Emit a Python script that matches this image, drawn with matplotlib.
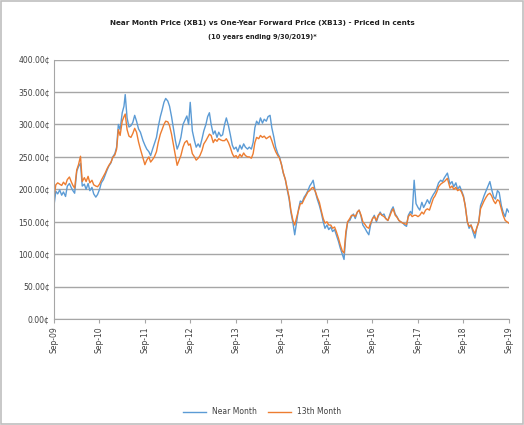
import matplotlib
matplotlib.use("Agg")
import matplotlib.pyplot as plt
import matplotlib.ticker as mticker
from matplotlib import font_manager
import pandas as pd

# Dates (roughly twice a month, extra points at peaks/troughs)
dates = [
    "2009-09-30", "2009-10-15", "2009-10-30", "2009-11-15", "2009-12-01", "2009-12-15",
    "2010-01-01", "2010-01-15", "2010-02-01", "2010-02-15", "2010-03-01", "2010-03-15",
    "2010-04-01", "2010-04-15", "2010-05-01", "2010-05-15", "2010-06-01", "2010-06-15",
    "2010-07-01", "2010-07-15", "2010-08-01", "2010-08-15", "2010-09-01", "2010-09-15",
    "2010-10-01", "2010-10-15", "2010-11-01", "2010-11-15", "2010-12-01", "2010-12-15",
    "2011-01-01", "2011-01-15", "2011-02-01", "2011-02-15", "2011-03-01", "2011-03-15",
    "2011-04-01", "2011-04-15", "2011-04-25", "2011-05-10", "2011-05-25", "2011-06-10",
    "2011-06-25", "2011-07-10", "2011-07-25", "2011-08-10", "2011-08-25", "2011-09-15",
    "2011-09-30", "2011-10-15", "2011-11-01", "2011-11-15", "2011-12-01", "2011-12-15",
    "2012-01-01", "2012-01-15", "2012-02-01", "2012-02-15", "2012-03-01", "2012-03-15",
    "2012-04-01", "2012-04-15", "2012-05-01", "2012-05-15", "2012-06-01", "2012-06-15",
    "2012-07-01", "2012-07-15", "2012-08-01", "2012-08-15", "2012-09-01", "2012-09-15",
    "2012-09-28", "2012-10-15", "2012-11-01", "2012-11-15", "2012-12-01", "2012-12-15",
    "2013-01-01", "2013-01-15", "2013-02-01", "2013-02-15", "2013-03-01", "2013-03-15",
    "2013-04-01", "2013-04-15", "2013-05-01", "2013-05-15", "2013-06-01", "2013-06-15",
    "2013-07-01", "2013-07-15", "2013-08-01", "2013-08-15", "2013-09-01", "2013-09-15",
    "2013-10-01", "2013-10-15", "2013-11-01", "2013-11-15", "2013-12-01", "2013-12-15",
    "2014-01-01", "2014-01-15", "2014-02-01", "2014-02-15", "2014-03-01", "2014-03-15",
    "2014-04-01", "2014-04-15", "2014-05-01", "2014-05-15", "2014-06-01", "2014-06-15",
    "2014-07-01", "2014-07-15", "2014-08-01", "2014-08-15", "2014-09-01", "2014-09-15",
    "2014-10-01", "2014-10-15", "2014-11-01", "2014-11-15", "2014-12-01", "2014-12-15",
    "2015-01-01", "2015-01-15", "2015-02-01", "2015-02-15", "2015-03-01", "2015-03-15",
    "2015-04-01", "2015-04-15", "2015-05-01", "2015-05-15", "2015-06-01", "2015-06-12",
    "2015-07-01", "2015-07-15", "2015-08-01", "2015-08-15", "2015-09-01", "2015-09-15",
    "2015-10-01", "2015-10-15", "2015-11-01", "2015-11-15", "2015-12-01", "2015-12-15",
    "2016-01-01", "2016-01-15", "2016-02-01", "2016-02-15", "2016-03-01", "2016-03-15",
    "2016-04-01", "2016-04-15", "2016-05-01", "2016-05-15", "2016-06-01", "2016-06-15",
    "2016-07-01", "2016-07-15", "2016-08-01", "2016-08-15", "2016-09-01", "2016-09-15",
    "2016-10-01", "2016-10-15", "2016-11-01", "2016-11-15", "2016-12-01", "2016-12-15",
    "2017-01-01", "2017-01-15", "2017-02-01", "2017-02-15", "2017-03-01", "2017-03-15",
    "2017-04-01", "2017-04-15", "2017-05-01", "2017-05-15", "2017-06-01", "2017-06-15",
    "2017-07-01", "2017-07-15", "2017-08-01", "2017-08-15", "2017-08-31", "2017-09-15",
    "2017-10-01", "2017-10-15", "2017-11-01", "2017-11-15", "2017-12-01", "2017-12-15",
    "2018-01-01", "2018-01-15", "2018-02-01", "2018-02-15", "2018-03-01", "2018-03-15",
    "2018-04-01", "2018-04-15", "2018-05-01", "2018-05-25", "2018-06-15", "2018-07-01",
    "2018-07-15", "2018-08-01", "2018-08-15", "2018-09-01", "2018-09-15", "2018-10-01",
    "2018-10-15", "2018-11-01", "2018-11-15", "2018-12-01", "2018-12-15", "2019-01-01",
    "2019-01-15", "2019-02-01", "2019-02-15", "2019-03-01", "2019-03-15", "2019-04-01",
    "2019-04-15", "2019-05-01", "2019-05-15", "2019-06-01", "2019-06-15", "2019-07-01",
    "2019-07-15", "2019-08-01", "2019-08-15", "2019-09-01", "2019-09-15", "2019-09-30",
]

# Near month (XB1), cents
near_month = [
    175, 197, 193, 199, 191, 196,
    189, 205, 209, 203, 198, 194,
    228, 235, 240, 205, 208, 200,
    209, 198, 203, 193, 188, 192,
    200, 210, 215, 222, 230, 236,
    241, 250, 255, 265, 300, 292,
    318, 328, 346, 310, 296, 298,
    303, 314, 305, 293, 288, 275,
    268, 262, 258, 252, 262, 270,
    280, 296, 312, 322, 334, 340,
    336, 328, 312, 295, 275, 262,
    270, 280, 300, 306, 313, 300,
    334, 290, 275, 265, 270, 265,
    278, 290, 300, 312, 318, 300,
    285, 290, 280, 288, 282, 284,
    300, 310, 298, 285, 268, 262,
    265, 258, 268, 262, 270, 265,
    262, 265, 262, 272, 295, 305,
    300, 310, 302, 308, 305, 312,
    314, 295, 280, 265, 255, 250,
    238, 225, 215, 200, 185, 165,
    148, 130, 152, 170, 182, 180,
    188, 192, 198, 205, 210, 214,
    195, 185, 175, 165, 150, 140,
    145, 138, 142, 135, 138, 130,
    120, 110, 100, 92, 130, 150,
    152, 158, 162, 155, 165, 168,
    158, 145, 140, 135, 130, 145,
    155, 160, 150, 158, 165, 160,
    162, 155, 152, 160, 168, 173,
    162, 158, 152, 150, 148, 145,
    143, 160, 166, 162, 214, 178,
    172, 168, 180, 172, 178, 184,
    178, 186, 192, 196, 202, 210,
    214, 212, 218, 225, 208, 212,
    204, 210, 200, 205, 198, 190,
    175, 150, 140, 145, 135, 125,
    140, 150, 175, 182, 190, 198,
    205, 212, 200, 188, 185, 198,
    195, 175, 165, 158, 170, 165,
]

# 13th month (XB13), cents
month_13 = [
    188, 207, 210, 208, 206, 211,
    207, 215, 219, 212, 206, 202,
    230, 238, 251, 212, 218, 212,
    220, 210, 214, 207, 205, 204,
    208, 214, 220, 225, 232, 237,
    242, 249, 253, 262, 292, 283,
    305, 312, 316, 292, 282, 280,
    286, 294, 288, 273, 262, 248,
    238, 245, 250, 242, 246, 250,
    258, 272, 285, 292, 300, 305,
    304, 298, 285, 270, 252, 237,
    245, 252, 265, 272, 275, 268,
    270, 255, 250, 245, 248, 252,
    260, 270, 275, 280, 285, 283,
    272, 277, 274, 278, 276, 275,
    275, 278, 272, 265, 255, 250,
    252, 248, 254, 250, 256, 252,
    250, 250, 248, 255, 272, 280,
    278, 283, 280, 282, 278, 280,
    282, 275, 265, 258, 252, 248,
    238, 226, 215, 202, 188, 168,
    152, 145, 158, 168, 178, 178,
    185, 190, 196, 198, 202, 203,
    196, 188, 180, 168, 155, 148,
    150, 145, 145, 140, 142, 135,
    125, 115, 105, 102, 135, 150,
    155, 160, 160, 158, 165, 168,
    160, 150, 146, 142, 140, 148,
    155, 158, 152, 160, 163, 160,
    158, 155, 152, 158, 165, 170,
    160, 157, 152, 150, 148, 147,
    146, 158, 162, 158, 160, 160,
    158, 160, 165, 162, 168, 170,
    168, 176, 186, 190, 196, 204,
    208, 210, 212, 217, 202, 205,
    200, 203, 198, 200, 196, 188,
    175, 150, 143, 145, 138, 132,
    140, 150, 170, 176, 182, 188,
    192, 194, 190, 182, 178, 184,
    182, 170, 160, 152, 150, 148,
]

tick_years = list(range(2009, 2020))

# narrow font for the title if available (Excel uses Calibri)
installed = {f.name for f in font_manager.fontManager.ttflist}
title_family = 'Liberation Sans Narrow' if 'Liberation Sans Narrow' in installed else 'DejaVu Sans'
title_size = 6.8 if title_family == 'Liberation Sans Narrow' else 5.2

x = pd.to_datetime(dates)

fig = plt.figure(figsize=(5.24, 4.25), dpi=100)
ax = fig.add_axes([0.103, 0.249, 0.868, 0.611])

ax.plot(x, near_month, color='#5B9BD5', linewidth=1.0, label='Near Month')
ax.plot(x, month_13, color='#ED7D31', linewidth=1.0, label='13th Month')

ax.set_ylim(0, 400)
ax.set_yticks(range(0, 401, 50))
ax.yaxis.set_major_formatter(mticker.FuncFormatter(lambda v, p: f"{v:.2f}\u00a2"))
ax.set_xlim(pd.Timestamp("2009-09-30"), pd.Timestamp("2019-09-30"))
ticks = [pd.Timestamp(f"{y}-09-30") for y in tick_years]
ax.set_xticks(ticks)
ax.set_xticklabels([t.strftime("%b-%y") for t in ticks], rotation=90)

ax.grid(True, axis='y', color='#A6A6A6', linewidth=1.0)
ax.set_axisbelow(True)
for side in ('top', 'right'):
    ax.spines[side].set_visible(False)
for side in ('left', 'bottom'):
    ax.spines[side].set_color('#A6A6A6')
ax.tick_params(axis='both', labelsize=5.5, colors='#404040', length=0, pad=3)
ax.tick_params(axis='x', length=3, color='#A6A6A6', pad=2)

fig.text(0.5, 0.947, 'Near Month Price (XB1) vs One-Year Forward Price (XB13) - Priced in cents',
         ha='center', va='center', fontsize=title_size, fontweight='bold', color='#202020',
         family=title_family)
fig.text(0.5, 0.913, '(10 years ending 9/30/2019)*', ha='center', va='center',
         fontsize=4.8, fontweight='bold', color='#202020')

fig.legend(loc='center', bbox_to_anchor=(0.5, 0.031), ncol=2, frameon=False,
           fontsize=5.5, handlelength=3, columnspacing=1.5, labelcolor='#404040')

fig.patches.append(plt.Rectangle((0.002, 0.002), 0.996, 0.996, transform=fig.transFigure,
                                 fill=False, edgecolor='#BFBFBF', linewidth=1.2))

plt.savefig('out.png', dpi=100, facecolor='white')
